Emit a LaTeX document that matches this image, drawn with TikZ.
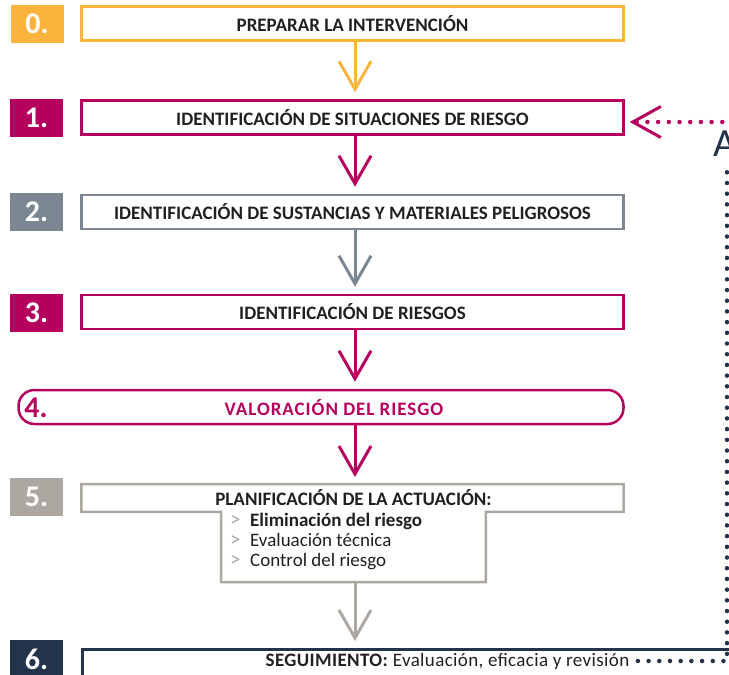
\documentclass[tikz,border=0pt]{standalone}
\usepackage{fontspec}
\setmainfont{Carlito}
\usetikzlibrary{arrows.meta,positioning}

\definecolor{cnaranja}{RGB}{250,180,60}
\definecolor{cmagenta}{RGB}{182,0,94}
\definecolor{cgrisazul}{RGB}{122,134,145}
\definecolor{cgris}{RGB}{173,167,162}
\definecolor{cmarino}{RGB}{35,52,74}
\definecolor{ctexto}{RGB}{35,31,32}

\tikzset{
  caja/.style={draw, line width=2.5pt, minimum width=542pt, minimum height=34pt,
    inner sep=0pt, text=ctexto, font=\bfseries\fontsize{19}{21}\selectfont},
  num/.style={minimum width=53pt, minimum height=38pt, inner sep=0pt,
    text=white, font=\bfseries\fontsize{30}{30}\selectfont},
  flecha/.style={line width=3pt, -{Straight Barb[length=28pt,width=32pt]}, shorten >=7pt},
  puntos/.style={line width=4.5pt, line cap=round, dash pattern=on 0pt off 10.7pt},
}

\begin{document}
\begin{tikzpicture}[x=1pt,y=-1pt]
\useasboundingbox (0,0) rectangle (729,675);
%\draw[help lines] (0,0) grid (729,675);
\node[num, fill=cnaranja] (n0) at (37,24) {0.};
\node[caja, draw=cnaranja] (p0) at (352.5,23.5) {PREPARAR LA INTERVENCIÓN};
\node[num, fill=cmagenta] (n1) at (36.5,118) {1.};
\node[caja, draw=cmagenta] (p1) at (352.5,117.5) {IDENTIFICACIÓN DE SITUACIONES DE RIESGO};
\node[num, fill=cgrisazul] (n2) at (36.5,212) {2.};
\node[caja, draw=cgrisazul] (p2) at (352.5,212) {IDENTIFICACIÓN DE SUSTANCIAS Y MATERIALES PELIGROSOS};
\node[num, fill=cmagenta] (n3) at (36.5,313) {3.};
\node[caja, draw=cmagenta] (p3) at (352.5,312) {IDENTIFICACIÓN DE RIESGOS};
\node[caja, draw=cmagenta, rounded corners=16pt, minimum width=605pt] (p4) at (321,407) {};
\node[num, text=cmagenta] (n4) at (36,408) {4.};
\node[text=cmagenta, font=\bfseries\fontsize{19}{21}\selectfont\addfontfeature{LetterSpace=5}] (t4) at (334,408) {VALORACIÓN DEL RIESGO};
\node[num, fill=cgris] (n5) at (36.5,497) {5.};
\node[minimum width=542pt, minimum height=27.5pt, inner sep=0pt] (p5) at (352.5,498) {};
\node[anchor=north, minimum width=264.5pt, minimum height=70pt, inner sep=0pt] (p5b) at (353.5,511.75) {};
\draw[cgris, line width=2.5pt] (p5.north west) -- (p5.north east) -- (p5.south east)
  -- (p5b.north east) -- (p5b.south east) -- (p5b.south west) -- (p5b.north west)
  -- (p5.south west) -- cycle;
\node[text=ctexto, font=\bfseries\fontsize{19}{21}\selectfont] (t5) at (353.5,498) {PLANIFICACIÓN DE LA ACTUACIÓN:};
\node[anchor=north west, align=left, inner sep=0pt, text=ctexto,
  font=\fontsize{19}{20}\selectfont] (l5) at (230,513)
  {\textcolor{cgris}{\fontsize{21}{20}\selectfont >}\enspace\textbf{Eliminación del riesgo}\\
   \textcolor{cgris}{\fontsize{21}{20}\selectfont >}\enspace Evaluación técnica\\
   \textcolor{cgris}{\fontsize{21}{20}\selectfont >}\enspace Control del riesgo};
\node[num, fill=cmarino] (n6) at (36.5,659) {6.};
\node[draw=cmarino, line width=2.5pt, anchor=north west, minimum width=700pt,
  minimum height=60pt] (p6) at (81,648) {};
\node[text=ctexto, font=\fontsize{19}{21}\selectfont\addfontfeature{LetterSpace=2}] (t6) at (447.5,661)
  {\textbf{SEGUIMIENTO:} Evaluación, eficacia y revisión};
\node[text=cmarino, font=\fontsize{40}{40}\selectfont, anchor=south west, inner sep=0pt] (rotulo) at (713,157) {A};
\coordinate (retorno) at (727,165);
\coordinate (entrada) at (733,122);
\draw[flecha, cnaranja] ([xshift=2.5pt]p0.south) -- ([xshift=2.5pt]p1.north);
\draw[flecha, cmagenta] ([xshift=2.5pt]p1.south) -- ([xshift=2.5pt]p2.north);
\draw[flecha, cgrisazul] ([xshift=2.5pt]p2.south) -- ([xshift=2.5pt]p3.north);
\draw[flecha, cmagenta] ([xshift=2.5pt]p3.south) -- ([xshift=2.5pt]p3.south |- p4.north);
\draw[flecha, cmagenta] ([xshift=2.5pt]p4.south -| p3.south) -- ([xshift=2.5pt]p5.north);
\draw[flecha, cgris] ([xshift=1.5pt]p5b.south) -- ([xshift=1.5pt]p5b.south |- p6.north);
\draw[puntos, cmarino] ([xshift=5pt]t6.east) -| (retorno);
\draw[puntos, cmagenta, -{Straight Barb[length=28pt,width=31pt,line width=3pt]}, shorten >=5pt]
  (entrada) -- (p1.east |- entrada);
\end{tikzpicture}
\end{document}
